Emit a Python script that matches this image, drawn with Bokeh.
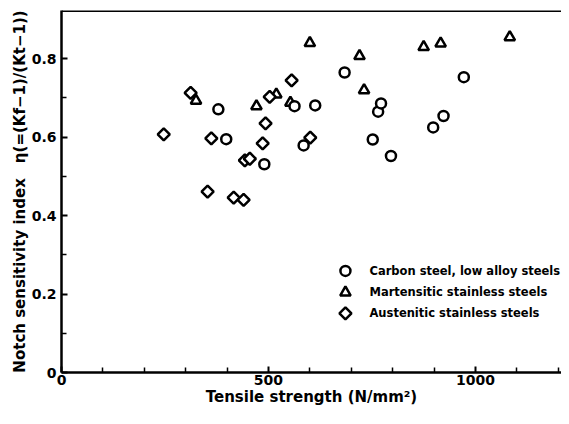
from bokeh.plotting import figure
from bokeh.models import FixedTicker, Span, Range1d
from bokeh.core.properties import value
from bokeh.embed import file_html
from bokeh.resources import INLINE
import numpy as np

# Carbon steel, low alloy steels (circles)
carbon_x = [379, 398, 490, 563, 585, 613, 684, 752, 765, 772, 796, 898, 923, 972]
carbon_y = [0.671, 0.595, 0.531, 0.679, 0.579, 0.681, 0.765, 0.594, 0.665, 0.686, 0.552, 0.625, 0.654, 0.753]

# Martensitic stainless steels (triangles)
mart_x = [325, 471, 519, 553, 600, 720, 731, 875, 916, 1083]
mart_y = [0.693, 0.679, 0.709, 0.688, 0.840, 0.807, 0.720, 0.830, 0.839, 0.855]

# Austenitic stainless steels (diamonds)
aus_x = [247, 312, 353, 362, 416, 440, 443, 455, 486, 493, 503, 556, 601]
aus_y = [0.607, 0.713, 0.461, 0.597, 0.446, 0.440, 0.541, 0.545, 0.584, 0.635, 0.703, 0.745, 0.599]

x_major = [0, 500, 1000]
x_minor = [100, 200, 300, 400, 600, 700, 800, 900, 1100, 1200]
y_major = [0, 0.2, 0.4, 0.6, 0.8]
y_minor = [0.1, 0.3, 0.5, 0.7]

labels = ["Carbon steel, low alloy steels", "Martensitic stainless steels", "Austenitic stainless steels"]

FONT = "DejaVu Sans"
X_END, Y_END = 1208, 0.923

# legend anchor (data units)
LEG_MARK_X = 686
LEG_TEXT_X = 744
LEG_ROWS_Y = [0.259, 0.204, 0.151]

p = figure(width=561, height=408, x_range=Range1d(0, X_END), y_range=Range1d(0, Y_END),
           output_backend="svg", toolbar_location=None,
           min_border_left=61, min_border_right=0, min_border_top=10, min_border_bottom=36)
p.grid.visible = False
p.outline_line_color = None
p.background_fill_color = "white"
p.border_fill_color = "white"

p.xaxis.ticker = FixedTicker(ticks=x_major, minor_ticks=x_minor)
p.yaxis.ticker = FixedTicker(ticks=y_major, minor_ticks=y_minor)
p.yaxis.major_label_overrides = {0: "0"}
p.xaxis.axis_label = "Tensile strength (N/mm²)"
p.yaxis.axis_label = "Notch sensitivity index\u2002\u2002η(=(Kf−1)/(Kt−1))"

for ax in (p.xaxis, p.yaxis):
    ax.axis_line_width = 2.5
    ax.axis_line_color = "black"
    ax.major_tick_in = 6
    ax.major_tick_out = 0
    ax.minor_tick_in = 5
    ax.minor_tick_out = 0
    ax.major_tick_line_width = 2
    ax.minor_tick_line_width = 1.5
    ax.major_tick_line_color = "black"
    ax.minor_tick_line_color = "black"
    ax.major_label_text_font = FONT
    ax.major_label_text_font_style = "bold"
    ax.major_label_text_font_size = "14px"
    ax.major_label_text_color = "black"
    ax.axis_label_text_font = FONT
    ax.axis_label_text_font_style = "bold"
    ax.axis_label_text_font_size = "15px"
    ax.axis_label_text_color = "black"
    ax.axis_label_standoff = 0
p.xaxis.major_label_standoff = 2
p.yaxis.major_label_standoff = 5

p.add_layout(Span(location=Y_END, dimension="width", line_color="black", line_width=3))

mstyle = dict(fill_color="white", line_color="black", line_width=2.5)
p.scatter(mart_x, mart_y, marker="triangle", size=10.5, **mstyle)
p.scatter(carbon_x, carbon_y, marker="circle", size=10, **mstyle)
p.scatter(aus_x, aus_y, marker="square", size=8.5, angle=np.pi / 4, **mstyle)

# legend (markers + labels)
p.scatter([LEG_MARK_X], [LEG_ROWS_Y[0]], marker="circle", size=10, **mstyle)
p.scatter([LEG_MARK_X], [LEG_ROWS_Y[1]], marker="triangle", size=10.5, **mstyle)
p.scatter([LEG_MARK_X], [LEG_ROWS_Y[2]], marker="square", size=8.5, angle=np.pi / 4, **mstyle)
p.text(x=[LEG_TEXT_X] * 3, y=LEG_ROWS_Y, text=labels,
       text_font=value(FONT), text_font_style="bold", text_font_size="11.5px",
       text_color="black", text_baseline="middle", text_align="left")

open("out.html", "w").write(file_html(p, INLINE))
